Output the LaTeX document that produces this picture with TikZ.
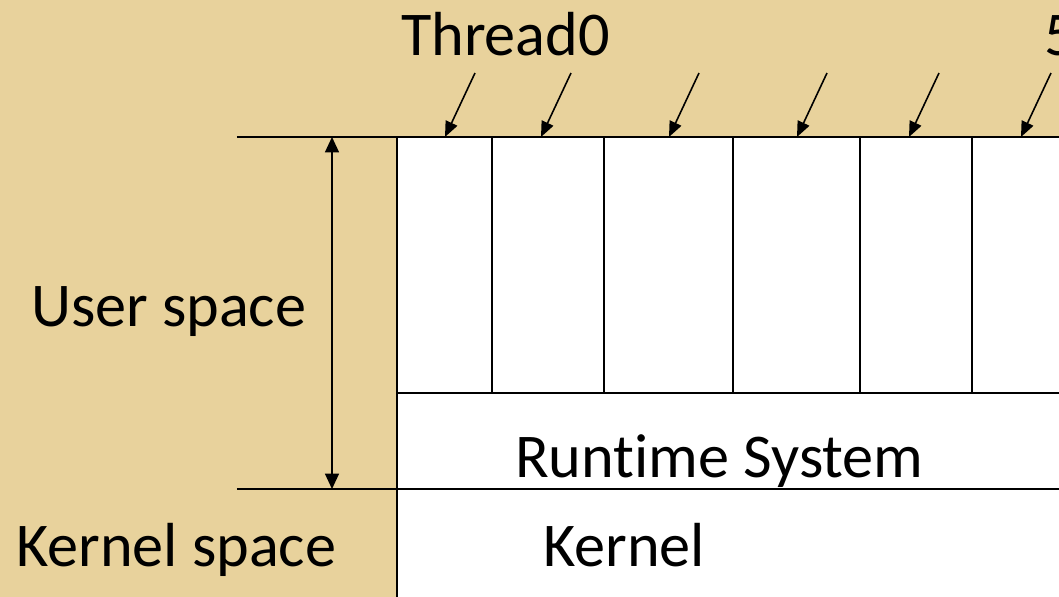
\documentclass[tikz,border=0pt]{standalone}
\usepackage{fontspec}
\setmainfont{Carlito}[Ligatures=NoCommon]
\usetikzlibrary{arrows.meta}
\definecolor{parchment}{RGB}{232,210,156}

\begin{document}
\begin{tikzpicture}[x=0.01cm, y=-0.01cm, line width=0.6pt,
  lbl/.style={font=\fontsize{17.7}{21}\selectfont, inner sep=0pt, anchor=base west},
  tip/.style={-{Triangle[length=4.4pt, width=3.6pt]}, line width=0.45pt}]
  \useasboundingbox (0, 0) rectangle (1059, 597);
  \clip (0, 0) rectangle (1059, 597);
  \fill[parchment] (0, 0) rectangle (1059, 597);
  \fill[white] (397, 137) rectangle (1059, 597);

  \draw (237, 137) -- (1059, 137);
  \draw (237, 489) -- (1059, 489);
  \draw (397, 137) -- (397, 597);
  \draw (397, 393) -- (1059, 393);
  \foreach \x in {492, 604, 733, 860, 972} {
      \draw (\x, 137) -- (\x, 393);
    }

  \foreach \x [count=\i] in {445, 541, 669, 797, 909, 1021} {
      \coordinate (from\i) at (\x + 30, 73);
      \coordinate (to\i) at (\x, 137);
      \draw[tip] (from\i) -- (to\i);
    }

  \coordinate (usertop) at (332, 137);
  \coordinate (userbot) at (332, 489);
  \draw[{Triangle[length=4.4pt, width=4pt]}-{Triangle[length=4.4pt, width=4pt]}, line width=0.45pt] (usertop) -- (userbot);

  \node[lbl] (thread0) at (400, 55) {Thread0};
  \node[lbl] (thread5) at (1043, 55) {5};
  \node[lbl] (user) at (30, 327) {User space};
  \node[lbl] (kspace) at (15, 567) {Kernel space};
  \node[lbl] (runtime) at (514, 478) {Runtime System};
  \node[lbl] (kernel) at (542, 567) {Kernel};
\end{tikzpicture}
\end{document}
